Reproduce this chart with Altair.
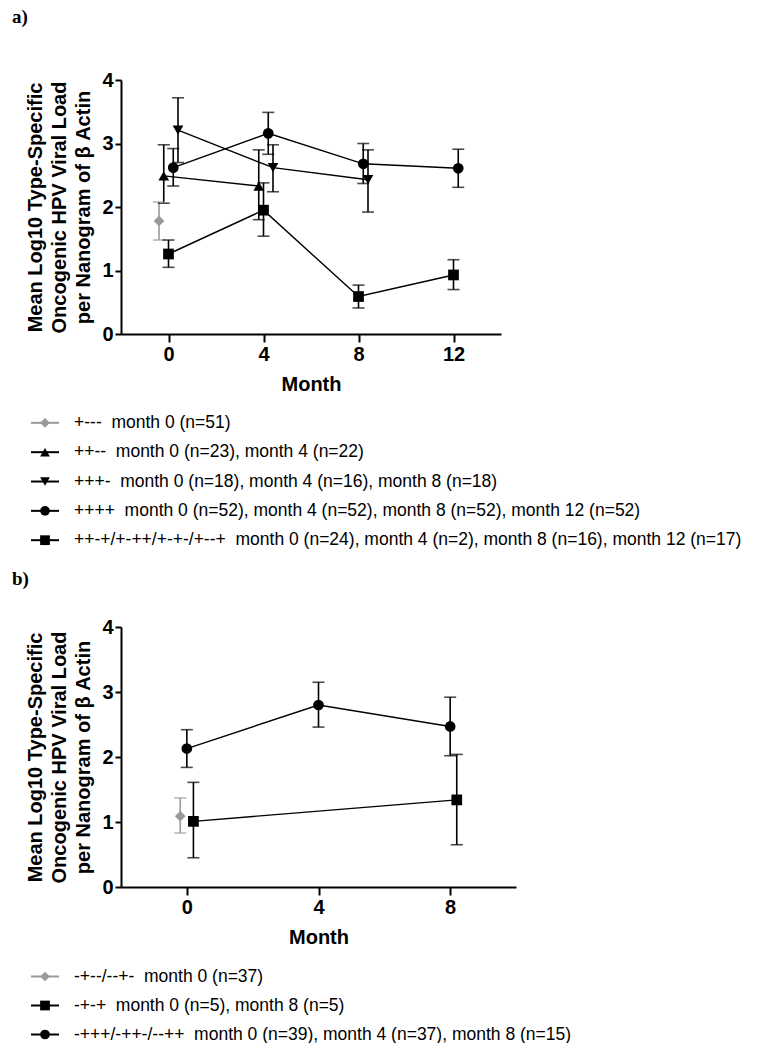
import altair as alt
import pandas as pd

# ---------------- Panel a data ----------------
a_series = ["+---", "++--", "+++-", "++++", "++-+/+-++/+-+-/+--+"]
a_shapes = ["diamond", "triangle-up", "triangle-down", "circle", "square"]
a_colors = ["#9a9a9a", "#000000", "#000000", "#000000", "#000000"]
a_nudge = [-0.4, -0.2, 0.4, 0.2, 0.0]  # horizontal nudge (months) used in the figure

a_months = [[0], [0, 4], [0, 4, 8], [0, 4, 8, 12], [0, 4, 8, 12]]
a_means = [[1.78], [2.49, 2.33], [3.21, 2.62, 2.43], [2.62, 3.16, 2.68, 2.61], [1.26, 1.95, 0.59, 0.93]]
a_hi = [[2.08], [2.98, 2.90], [3.72, 2.98, 2.90], [2.92, 3.49, 3.00, 2.91], [1.48, 2.38, 0.77, 1.17]]
a_lo = [[1.48], [2.06, 1.80], [2.70, 2.24, 1.92], [2.33, 2.83, 2.37, 2.31], [1.05, 1.54, 0.41, 0.70]]

a_legend = [
    "+---\u00a0 month 0 (n=51)",
    "++--\u00a0 month 0 (n=23), month 4 (n=22)",
    "+++-\u00a0 month 0 (n=18), month 4 (n=16), month 8 (n=18)",
    "++++\u00a0 month 0 (n=52), month 4 (n=52), month 8 (n=52), month 12 (n=52)",
    "++-+/+-++/+-+-/+--+\u00a0 month 0 (n=24), month 4 (n=2), month 8 (n=16), month 12 (n=17)",
]
a_xticks = [0, 4, 8, 12]

# ---------------- Panel b data ----------------
b_series = ["-+--/--+-", "-+-+", "-+++/-++-/--++"]
b_shapes = ["diamond", "square", "circle"]
b_colors = ["#9a9a9a", "#000000", "#000000"]
b_nudge = [-0.2, 0.2, 0.0]

b_months = [[0], [0, 8], [0, 4, 8]]
b_means = [[1.09], [1.01, 1.34], [2.13, 2.80, 2.47]]
b_hi = [[1.37], [1.61, 2.04], [2.42, 3.15, 2.92]]
b_lo = [[0.83], [0.45, 0.65], [1.84, 2.46, 2.02]]

b_legend = [
    "-+--/--+-\u00a0 month 0 (n=37)",
    "-+-+\u00a0 month 0 (n=5), month 8 (n=5)",
    "-+++/-++-/--++\u00a0 month 0 (n=39), month 4 (n=37), month 8 (n=15)",
]
b_xticks = [0, 4, 8]

Y_TITLE = ["Mean Log10 Type-Specific", "Oncogenic HPV Viral Load", "per Nanogram of \u03b2 Actin"]
SANS = "Liberation Sans"


def build_df(series, months, means, his, los, nudge):
    rows = []
    for s, ms, mn, hi, lo, nd in zip(series, months, means, his, los, nudge):
        for m, v, h, l in zip(ms, mn, hi, lo):
            rows.append({"series": s, "month": m, "x": m + nd, "mean": v, "hi": h, "lo": l})
    return pd.DataFrame(rows)


AXIS_STYLE = dict(
    grid=False, domainColor="#000", domainWidth=2, tickColor="#000", tickWidth=2,
    labelFont=SANS, labelFontSize=20, labelFontWeight="bold", labelColor="#000",
    titleFont=SANS, titleFontSize=20, titleFontWeight="bold", titleColor="#000",
)


def panel(df, series, shapes, colors, xdomain, xticks, width, height, label, title_offset):
    x = alt.X("x:Q", scale=alt.Scale(domain=xdomain, nice=False, zero=False),
              axis=alt.Axis(values=xticks, title="Month", tickSize=8, labelPadding=2,
                            titlePadding=10, format="d", **AXIS_STYLE))
    y = alt.Y("mean:Q", scale=alt.Scale(domain=[0, 4], nice=False),
              axis=alt.Axis(values=[0, 1, 2, 3, 4], title=Y_TITLE, tickSize=6, labelPadding=2,
                            titlePadding=8, titleLineHeight=24, format="d", **AXIS_STYLE))
    color = alt.Color("series:N", scale=alt.Scale(domain=series, range=colors), legend=None)
    shape = alt.Shape("series:N", scale=alt.Scale(domain=series, range=shapes), legend=None)
    base = alt.Chart(df)
    line = base.mark_line(strokeWidth=1.4).encode(x=x, y=y, color=color, detail="series:N")
    bars = base.mark_rule(strokeWidth=1.6).encode(x=x, y=alt.Y("lo:Q"), y2="hi:Q", color=color)
    cap_lo = base.mark_tick(orient="horizontal", size=12, thickness=1.6).encode(x=x, y=alt.Y("lo:Q"), color=color)
    cap_hi = base.mark_tick(orient="horizontal", size=12, thickness=1.6).encode(x=x, y=alt.Y("hi:Q"), color=color)
    pts = base.mark_point(filled=True, opacity=1, size=115).encode(x=x, y=y, color=color, shape=shape)
    return alt.layer(line, bars, cap_lo, cap_hi, pts).properties(
        width=width, height=height,
        title=alt.TitleParams(label, anchor="start", frame="bounds", dx=-14, offset=title_offset,
                              font="Liberation Serif", fontSize=19, fontWeight="bold", color="#000"),
    )


def legend(labels, shapes, colors, step, gap_top, gap_bot, width):
    """Rows on a point scale; gap_top/gap_bot = distance from first/last row centre to the edge."""
    n = len(labels)
    df = pd.DataFrame({"label": labels, "shape": shapes, "color": colors})
    height = step * (n - 1) + gap_top + gap_bot
    pad = (gap_top + gap_bot) / (2.0 * step)
    al = gap_top / (gap_top + gap_bot)
    y = alt.Y("label:N", sort=labels, axis=None,
              scale=alt.Scale(type="point", padding=pad, align=al))
    col = alt.Color("color:N", scale=None, legend=None)
    base = alt.Chart(df)
    seg = base.mark_rule(strokeWidth=2).encode(x=alt.value(-90), x2=alt.value(-62), y=y, color=col)
    mk = base.mark_point(filled=True, opacity=1, size=95).encode(
        x=alt.value(-76), y=y, color=col, shape=alt.Shape("shape:N", scale=None, legend=None))
    txt = base.mark_text(align="left", baseline="middle", font=SANS, fontSize=17.5, color="#000").encode(
        x=alt.value(-47), y=y, text="label:N")
    return alt.layer(seg, mk, txt).properties(width=width, height=height)


df_a = build_df(a_series, a_months, a_means, a_hi, a_lo, a_nudge)
df_b = build_df(b_series, b_months, b_means, b_hi, b_lo, b_nudge)

pa = panel(df_a, a_series, a_shapes, a_colors, [-2, 14], a_xticks, 380, 254, "a)", 43)
la = legend(a_legend, a_shapes, a_colors, 28.75, 30, 31, 560)
pb = panel(df_b, b_series, b_shapes, b_colors, [-2, 10], b_xticks, 395, 260, "b)", 28)
lb = legend(b_legend, b_shapes, b_colors, 29, 29.5, 8, 560)

chart = alt.vconcat(pa, la, pb, lb, spacing=0).resolve_scale(
    color="independent", shape="independent"
).properties(
    padding={"left": 3, "top": 0, "right": 0, "bottom": 0}, background="white"
).configure_view(stroke=None)

chart.save("out.html", embed_options={"renderer": "svg", "actions": False})
